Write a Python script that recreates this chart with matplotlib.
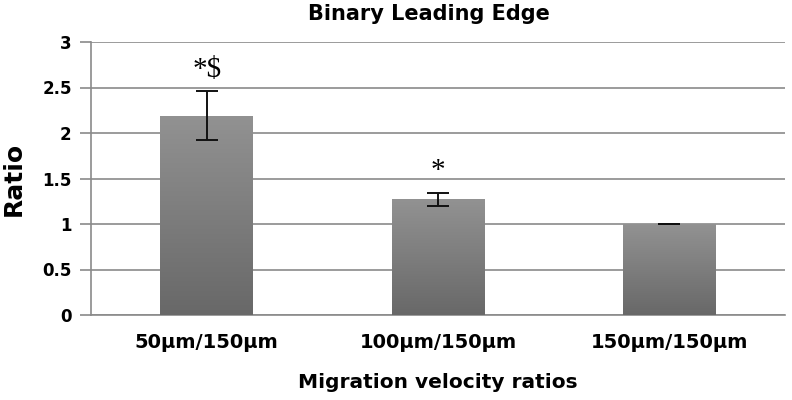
import numpy as np
import matplotlib.pyplot as plt
from matplotlib.colors import LinearSegmentedColormap

categories = ["50µm/150µm", "100µm/150µm", "150µm/150µm"]
ratios = [2.19, 1.27, 1.0]
errors = [0.27, 0.07, 0.0]
marks = ["*$", "*", ""]

plt.rcParams['font.family'] = ['DejaVu Sans']

fig = plt.figure(figsize=(7.92, 4.0), dpi=100)
ax = fig.add_axes([0.115, 0.2125, 0.876, 0.6825])

x = np.arange(len(categories))
bars = ax.bar(x, ratios, width=0.4, color="none", edgecolor="none", zorder=3)

# gradient fill, light at the top, dark at the bottom
cmap = LinearSegmentedColormap.from_list("g", ["#686868", "#929292"])
grad = np.linspace(0, 1, 256).reshape(-1, 1)
for b in bars:
    x0, y0 = b.get_x(), b.get_y()
    im = ax.imshow(grad, cmap=cmap, origin="lower", aspect="auto",
                   extent=[x0, x0 + b.get_width(), y0, y0 + b.get_height()], zorder=3)
    im.set_clip_path(b)

ax.errorbar(x, ratios, yerr=errors, fmt="none", ecolor="#111111", elinewidth=1.4,
            capsize=8, capthick=1.4, zorder=4)

for xi, r, e, m in zip(x, ratios, errors, marks):
    if m:
        ax.text(xi, r + e + 0.16, m, ha="center", va="baseline", fontsize=21,
                family="Liberation Serif")

ax.set_xlim(-0.5, 2.5)
ax.set_ylim(0, 3)
ax.set_yticks(np.arange(0, 3.01, 0.5))
ax.set_yticklabels(["0", "0.5", "1", "1.5", "2", "2.5", "3"])
ax.set_xticks(x)
ax.set_xticklabels(categories)
ax.yaxis.grid(True, color="#8a8a8a", linewidth=1.2, zorder=0)
ax.set_axisbelow(True)

for s in ["top", "right"]:
    ax.spines[s].set_visible(False)
ax.spines["left"].set_color("#8a8a8a")
ax.spines["bottom"].set_color("#8a8a8a")
ax.spines["left"].set_linewidth(1.2)
ax.spines["bottom"].set_linewidth(1.2)
ax.tick_params(axis="y", length=8, color="#8a8a8a", width=1.2, pad=6, labelsize=12)
ax.tick_params(axis="x", length=0, pad=13, labelsize=14)
for lab in ax.get_xticklabels() + ax.get_yticklabels():
    lab.set_fontweight("bold")

ax.set_title("Binary Leading Edge", fontsize=15, fontweight="bold", pad=16, x=0.487)
ax.set_ylabel("Ratio", fontsize=18, fontweight="bold", labelpad=12)
ax.set_xlabel("Migration velocity ratios", fontsize=14.5, fontweight="bold", labelpad=15)

fig.savefig("out.png", dpi=100)
